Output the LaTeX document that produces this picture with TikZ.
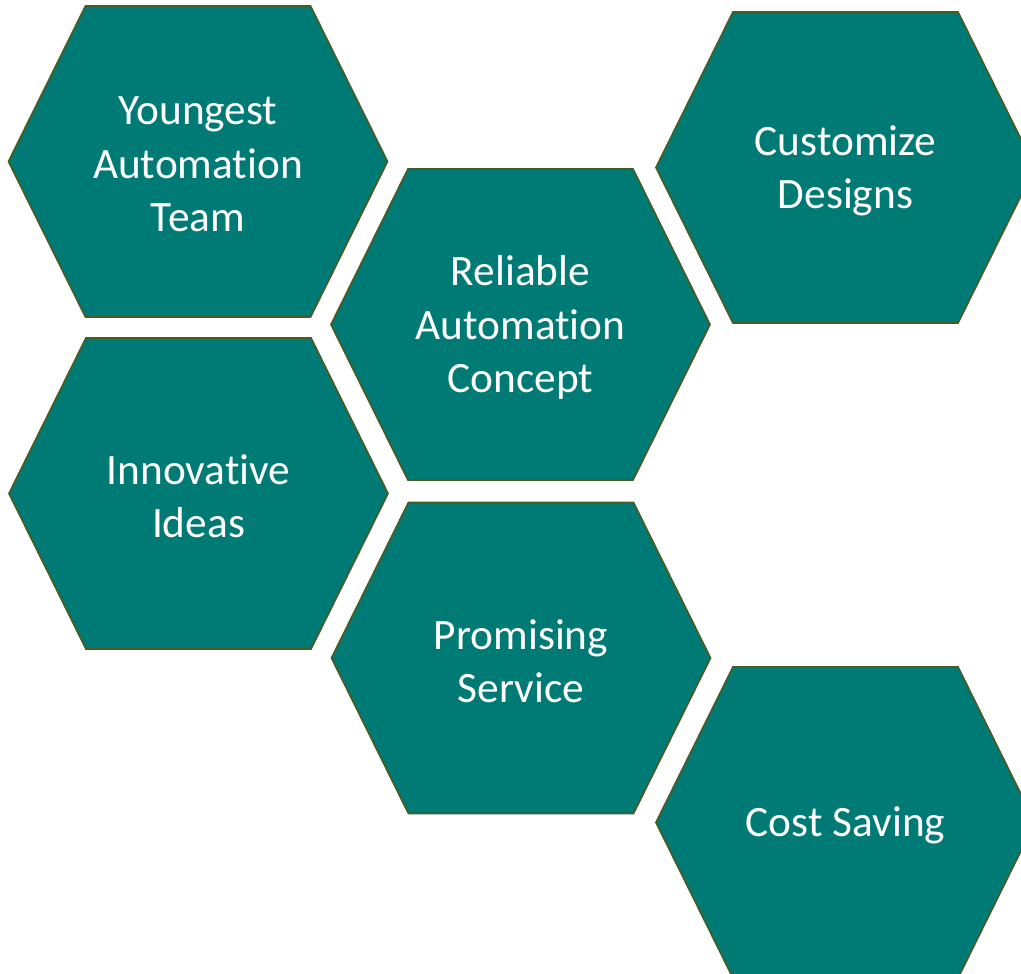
\documentclass[tikz,border=0pt]{standalone}
\usepackage{fontspec}
\setmainfont[Ligatures=NoCommon]{Carlito}
\definecolor{hexfill}{RGB}{0,122,117}
\definecolor{hexline}{RGB}{70,92,38}
\tikzset{
  hexshape/.style={fill=hexfill, draw=hexline, line width=1.3pt, line join=miter},
  hexlabel/.style={text=white, align=center, font=\fontsize{32.5}{40}\selectfont, inner sep=0pt}
}
\newcommand{\hexcell}[4]{%
  \draw[hexshape] (#2-189.5,#3) -- (#2-112.5,#3-155.5) -- (#2+112.5,#3-155.5)
     -- (#2+189.5,#3) -- (#2+112.5,#3+155.5) -- (#2-112.5,#3+155.5) -- cycle;
  \node[hexlabel] (#1) at (#2,#3+3) {#4};
}
\begin{document}
\begin{tikzpicture}[x=0.75pt,y=-0.75pt]
\useasboundingbox (0,0) rectangle (1021,974);
\clip (0,0) rectangle (1021,974);
\hexcell{young}{198}{161.5}{Youngest\\Automation\\Team}
\hexcell{reliable}{520.5}{324.5}{Reliable\\Automation\\Concept}
\hexcell{custom}{845.5}{167.5}{Customize\\Designs}
\hexcell{innov}{198.5}{493.5}{Innovative\\Ideas}
\hexcell{promise}{521}{658}{Promising\\Service}
\hexcell{cost}{845.5}{822.5}{Cost Saving}
\end{tikzpicture}
\end{document}
